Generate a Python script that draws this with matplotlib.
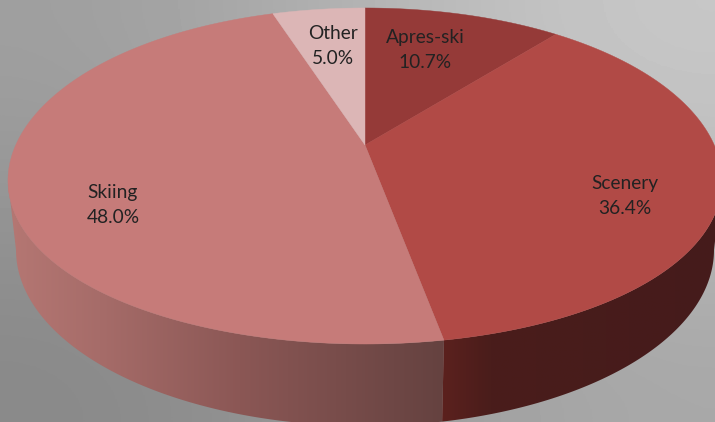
"""Perspective 3D pie chart of ski holiday preferences."""

from __future__ import annotations

import matplotlib

matplotlib.use("Agg")

import matplotlib.pyplot as plt
import numpy as np
from matplotlib.colors import to_rgb
from matplotlib.patches import Polygon

# Chart data, clockwise from twelve o'clock.
CATEGORIES = ["Apres-ski", "Scenery", "Skiing", "Other"]
SHARES = [10.7, 36.4, 48.0, 5.0]

# Styling.
TOP_COLORS = ["#953a38", "#b14a46", "#c67b79", "#dcb6b6"]
LABEL_XY = [(425, 50), (625, 196), (113, 205), (333, 46)]
TEXT_COLOR = "#222222"

# Perspective disc parameters, in image pixels.
CX = 365.0
TILT = 0.1845
TOP_APEX_Y = 145.0
TOP_Q = 350.9
TOP_P = 162.3
TOP_BULGE = 8.0
BOTTOM_APEX_Y = 217.5
BOTTOM_Q = 343.0
BOTTOM_P = 170.0

WIDTH = 715
HEIGHT = 422


def rim(theta: np.ndarray, apex_y: float, q: float, p: float, bulge: float = 0.0) -> np.ndarray:
    """Map clockwise angles from twelve o'clock on to a tilted disc."""
    u = np.sin(theta)
    v = np.cos(theta)
    w = 1.0 + TILT * v
    sag = bulge * u**2 * (1.0 - v) / 2.0
    return np.column_stack((CX + q * u / w, apex_y - p * v / w + sag))


def top_rim(theta: np.ndarray) -> np.ndarray:
    return rim(theta, TOP_APEX_Y, TOP_Q, TOP_P, TOP_BULGE)


def bottom_rim(theta: np.ndarray) -> np.ndarray:
    return rim(theta, BOTTOM_APEX_Y, BOTTOM_Q, BOTTOM_P)


def gradient_image(stops: list[tuple[float, str]], x0: float, x1: float) -> np.ndarray:
    """Return a one row RGB strip sampling colour stops between x0 and x1."""
    xs = np.linspace(x0, x1, 256)
    pos = [s[0] for s in stops]
    rgb = np.array([to_rgb(s[1]) for s in stops])
    return np.stack([np.interp(xs, pos, rgb[:, i]) for i in range(3)], axis=1)[None, :, :]


def draw_wall(ax, start: float, end: float, stops: list[tuple[float, str]]) -> None:
    """Draw the visible outer wall of a slice with a horizontal gradient."""
    theta = np.linspace(start, end, 200)
    outline = np.vstack((top_rim(theta), bottom_rim(theta)[::-1]))
    x0, x1 = outline[:, 0].min(), outline[:, 0].max()
    y0, y1 = outline[:, 1].min(), outline[:, 1].max()
    patch = Polygon(outline, closed=True, facecolor="none", edgecolor="none")
    ax.add_patch(patch)
    image = ax.imshow(
        gradient_image(stops, x0, x1),
        extent=(x0, x1, y1, y0),
        aspect="auto",
        interpolation="bilinear",
        zorder=2,
    )
    image.set_clip_path(patch)


def main() -> None:
    fig = plt.figure(figsize=(WIDTH / 100, HEIGHT / 100), dpi=100)
    ax = fig.add_axes((0, 0, 1, 1))

    background = np.array([[0.62, 0.79], [0.53, 0.66]])
    ax.imshow(
        background,
        extent=(0, WIDTH, HEIGHT, 0),
        cmap="gray",
        vmin=0,
        vmax=1,
        aspect="auto",
        interpolation="bicubic",
        zorder=0,
    )

    shares = np.asarray(SHARES, dtype=float)
    edges = np.concatenate(([0.0], np.cumsum(shares) / shares.sum())) * 2.0 * np.pi

    # Only the front walls are visible: Scenery on the right, Skiing on the left.
    side = np.arcsin(TILT)
    draw_wall(
        ax,
        edges[2],
        3.0 * np.pi / 2.0 - side,
        [(8, "#b57773"), (100, "#a66c69"), (240, "#8b5755"), (443, "#654240")],
    )
    draw_wall(
        ax,
        np.pi / 2.0 + side,
        edges[2],
        [(441, "#5c211e"), (490, "#4a1d1b"), (722, "#451b1b")],
    )

    for i, color in enumerate(TOP_COLORS):
        theta = np.linspace(edges[i], edges[i + 1], 200)
        points = np.vstack(([[CX, TOP_APEX_Y]], top_rim(theta)))
        ax.add_patch(Polygon(points, closed=True, facecolor=color, edgecolor=color, lw=0.3, zorder=3))

    for name, share, (x, y) in zip(CATEGORIES, SHARES, LABEL_XY):
        ax.text(
            x,
            y,
            f"{name}\n{share:.1f}%",
            ha="center",
            va="center",
            family="Lato",
            fontsize=13.8,
            linespacing=1.6,
            color=TEXT_COLOR,
            zorder=4,
        )

    ax.set_xlim(0, WIDTH)
    ax.set_ylim(HEIGHT, 0)
    ax.axis("off")
    fig.savefig("out.png", dpi=100)
    plt.close(fig)


if __name__ == "__main__":
    main()
